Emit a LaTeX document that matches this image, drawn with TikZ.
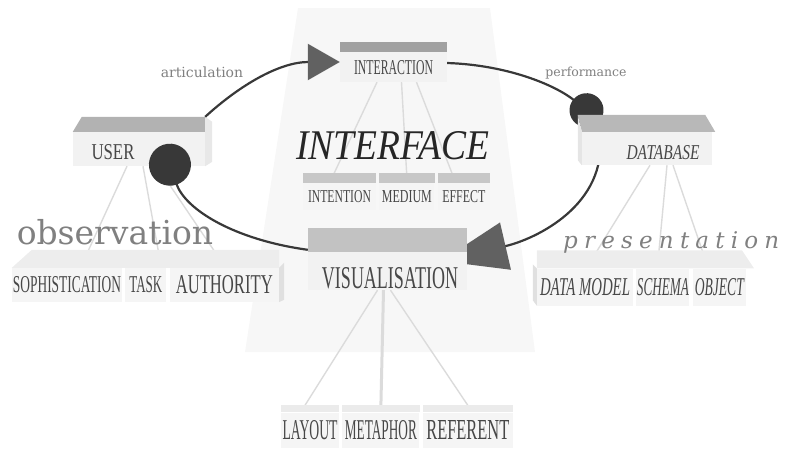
\documentclass[tikz,border=0pt]{standalone}
\usepackage{fontspec}
\usepackage{graphicx}
\setmainfont{Liberation Serif}
\newfontfamily\wordfont{DejaVu Serif}
\newfontfamily\wordspaced[LetterSpace=27]{DejaVu Serif}
\usepackage{tikz}
\usetikzlibrary{positioning}
\usetikzlibrary{arrows.meta}

\pgfdeclarelayer{bg}
\pgfdeclarelayer{mid}
\pgfsetlayers{bg,mid,main}

% squeeze a caps label into a width and a height (in pt)
\newcommand{\fitcaps}[3]{\resizebox{#1pt}{#2pt}{\fontsize{20}{24}\selectfont #3}}

\begin{document}
\begin{tikzpicture}[
	x=1pt, y=-1pt,
	face/.style={
		fill=black!5,
		inner sep=0pt,
		text=black!72
		},
	sub/.style={
		face,
		fill=black!4
	},
	bar/.style={
		fill=black!35
	},
	subbar/.style={
		fill=black!22
	},
	link/.style={
		draw=black!14,
		line width=1.4pt
	},
	loopline/.style={
		draw=black!78,
		line width=2.2pt
	},
	word/.style={
		inner sep=0pt,
		text=black!50
	},
	lbl/.style={
		inner sep=0pt,
		text=black!72
	}
]
\useasboundingbox (0,0) rectangle (787,448);

\begin{pgfonlayer}{bg}
% Backdrop
\fill[black!3] (298,8) -- (490,8) -- (535,352) -- (245,352) -- cycle;
% User box
\node [face, minimum width=132pt, minimum height=34pt] (User) at (139,149) {};
\fill[bar, black!30] (User.north west) -- (User.north east) -- ++(0,-15) -- ([xshift=9pt,yshift=15pt]User.north west) -- cycle;
\fill[black!9] ([yshift=15pt]User.north east) -- ++(7,5) -- ++(0,40) -- (User.south east) -- cycle;
\node [lbl] (User text) at ([xshift=-26pt,yshift=-3pt]User.center) {\fitcaps{43}{15}{USER}};
\end{pgfonlayer}

% Main boxes
\node [face, minimum width=107pt, minimum height=30pt] (Interaction) at (393.5,67) {};
\fill[bar, black!37] (Interaction.north west) rectangle ([yshift=10pt]Interaction.north east);
\node [lbl] (Interaction text) at ([yshift=-1pt]Interaction.center) {\fitcaps{79}{14}{INTERACTION}};

\node [face, minimum width=130pt, minimum height=33pt] (Database) at (647,148.5) {};
\fill[bar, black!28] (Database.north west) -- ([xshift=3pt]Database.north east) -- ++(-10,-17) -- ([xshift=-4pt,yshift=17pt]Database.north west) -- cycle;
\fill[black!10] ([xshift=-4pt,yshift=17pt]Database.north west) -- (Database.north west) -- (Database.south west) -- ++(-4,-5) -- cycle;
\node [lbl] (Database text) at ([xshift=16pt,yshift=-4.5pt]Database.center) {\fitcaps{73}{14}{\itshape DATABASE}};

\node [face, minimum width=159pt, minimum height=38pt] (Visualisation) at (387.5,271) {};
\fill[bar, black!24] (Visualisation.north west) rectangle ([yshift=24pt]Visualisation.north east);
\node [lbl] (Visualisation text) at ([xshift=2.5pt,yshift=-7pt]Visualisation.center) {\fitcaps{136}{21}{VISUALISATION}};

% Interface row
\node [sub, minimum width=73pt, minimum height=27pt] (Intention) at (339.5,196.5) {\fitcaps{63}{12}{INTENTION}};
\node [sub, minimum width=55pt, minimum height=27pt, right=3pt of Intention] (Medium) {\fitcaps{50}{12}{MEDIUM}};
\node [sub, minimum width=52pt, minimum height=27pt, right=3pt of Medium] (Effect) {\fitcaps{43}{12}{EFFECT}};
\foreach \n in {Intention,Medium,Effect}
	\fill[subbar] (\n.north west) rectangle ([yshift=10pt]\n.north east);

% User row
\node [sub, minimum width=110pt, minimum height=34pt] (Sophistication) at (67,285) {\fitcaps{108}{16}{SOPHISTICATION}};
\node [sub, minimum width=41pt, minimum height=34pt, right=3pt of Sophistication] (Task) {\fitcaps{33}{16}{TASK}};
\node [sub, minimum width=109pt, minimum height=34pt, right=3pt of Task] (Authority) {\fitcaps{97}{18}{AUTHORITY}};
\fill[black!7] (Sophistication.north west) -- (Authority.north east) -- ++(0,-18) -- ([xshift=20pt,yshift=18pt]Sophistication.north west) -- cycle;
\fill[black!12] (Authority.north east) -- ++(5,-5) -- ++(0,37) -- (Authority.south east) -- cycle;

% Database row
\node [sub, minimum width=96pt, minimum height=37pt] (Data Model) at (585,287) {\fitcaps{90}{17}{\itshape DATA MODEL}};
\node [sub, minimum width=53pt, minimum height=37pt, right=3pt of Data Model] (Schema) {\fitcaps{52}{17}{\itshape SCHEMA}};
\node [sub, minimum width=53pt, minimum height=37pt, right=3pt of Schema] (Object) {\fitcaps{49}{17}{\itshape OBJECT}};
\fill[black!7] (Data Model.north west) -- ([xshift=8pt]Object.north east) -- ++(-12,-18) -- ([yshift=18pt]Data Model.north west) -- cycle;
\fill[black!12] (Data Model.north west) -- ++(-4,-4) -- ++(0,36) -- (Data Model.south west) -- cycle;

% Visualisation row
\node [sub, minimum width=58pt, minimum height=35pt] (Layout) at (310,430) {\fitcaps{55}{19}{LAYOUT}};
\node [sub, minimum width=77pt, minimum height=35pt, right=3pt of Layout] (Metaphor) {\fitcaps{72}{19}{METAPHOR}};
\node [sub, minimum width=90pt, minimum height=35pt, right=3pt of Metaphor] (Referent) {\fitcaps{83}{19}{REFERENT}};
\foreach \n in {Layout,Metaphor,Referent}
	\fill[black!8] (\n.north west) rectangle ([yshift=7pt]\n.north east);

% Titles
\node [lbl, text=black!85] (Interface) at (393,146) {\fitcaps{193}{28}{\itshape INTERFACE}};
\node [word, font=\wordfont\fontsize{14}{14}\selectfont] (Articulation) at (202,72) {articulation};
\node [word, font=\wordfont\fontsize{12.5}{13}\selectfont] (Performance) at (586,73) {performance};
\node [word, font=\wordfont\fontsize{33}{33}\selectfont] (Observation) at (115,232) {observation};
\node [word, anchor=west, font=\wordspaced\itshape\fontsize{23}{23}\selectfont] (Presentation) at (563,242) {presentation};

\begin{pgfonlayer}{mid}
% Links
\draw[link] ([xshift=-16.5pt]Interaction.south) -- ([xshift=-7.5pt,yshift=5pt]Intention.north);
\draw[link] ([xshift=8pt]Interaction.south) -- ([yshift=5pt]Medium.north);
\draw[link] ([xshift=23pt]Interaction.south) -- ([xshift=-10pt,yshift=5pt]Effect.north);
\draw[link] ([xshift=-12pt]User.south) -- ([xshift=18pt,yshift=10pt]Sophistication.north);
\draw[link] ([xshift=4pt]User.south) -- ([xshift=14pt,yshift=8pt]Task.north);
\draw[link] ([xshift=18pt]User.south) -- ([yshift=2pt]Authority.north);
\draw[link] ([xshift=3pt]Database.south) -- ([xshift=5pt,yshift=6pt]Data Model.north);
\draw[link] ([xshift=20pt]Database.south) -- ([xshift=-5pt,yshift=6pt]Schema.north);
\draw[link] ([xshift=26pt]Database.south) -- ([xshift=-13pt,yshift=6pt]Object.north);
\draw[link] ([xshift=-10pt]Visualisation.south) -- ([xshift=-5pt,yshift=7pt]Layout.north);
\draw[link, line width=3pt] ([xshift=-4pt]Visualisation.south) -- ([yshift=7pt]Metaphor.north);
\draw[link] ([xshift=3pt]Visualisation.south) -- ([yshift=7pt]Referent.north);

% Cycle
\draw[loopline, -{Triangle[length=32pt,width=36pt,fill=black!62,color=black!62]}]
	([yshift=15pt]User.north east) .. controls +(35,-32) and +(-60,0) .. ([yshift=5pt]Interaction.west);
\draw[loopline, -{Circle[length=34pt,fill=black!78,color=black!78]}]
	([yshift=4pt]Interaction.east) .. controls +(60,2) and +(-45,-36) .. ([xshift=18pt,yshift=11pt]Database.north west);
\draw[loopline, -{Triangle[length=66pt,width=48pt,fill=black!62,color=black!62]}]
	([xshift=18pt,yshift=-3pt]Database.north west) .. controls +(8,70) and +(95,-22) .. ([xshift=-26pt,yshift=10pt]Visualisation.east);
\draw[loopline, -{Circle[length=42pt,fill=black!78,color=black!78]}]
	([yshift=2pt]Visualisation.north west) .. controls +(-73,-10) and +(22,65) .. ([xshift=-42pt,yshift=-13pt]User.north east);
\end{pgfonlayer}
\end{tikzpicture}
\end{document}
